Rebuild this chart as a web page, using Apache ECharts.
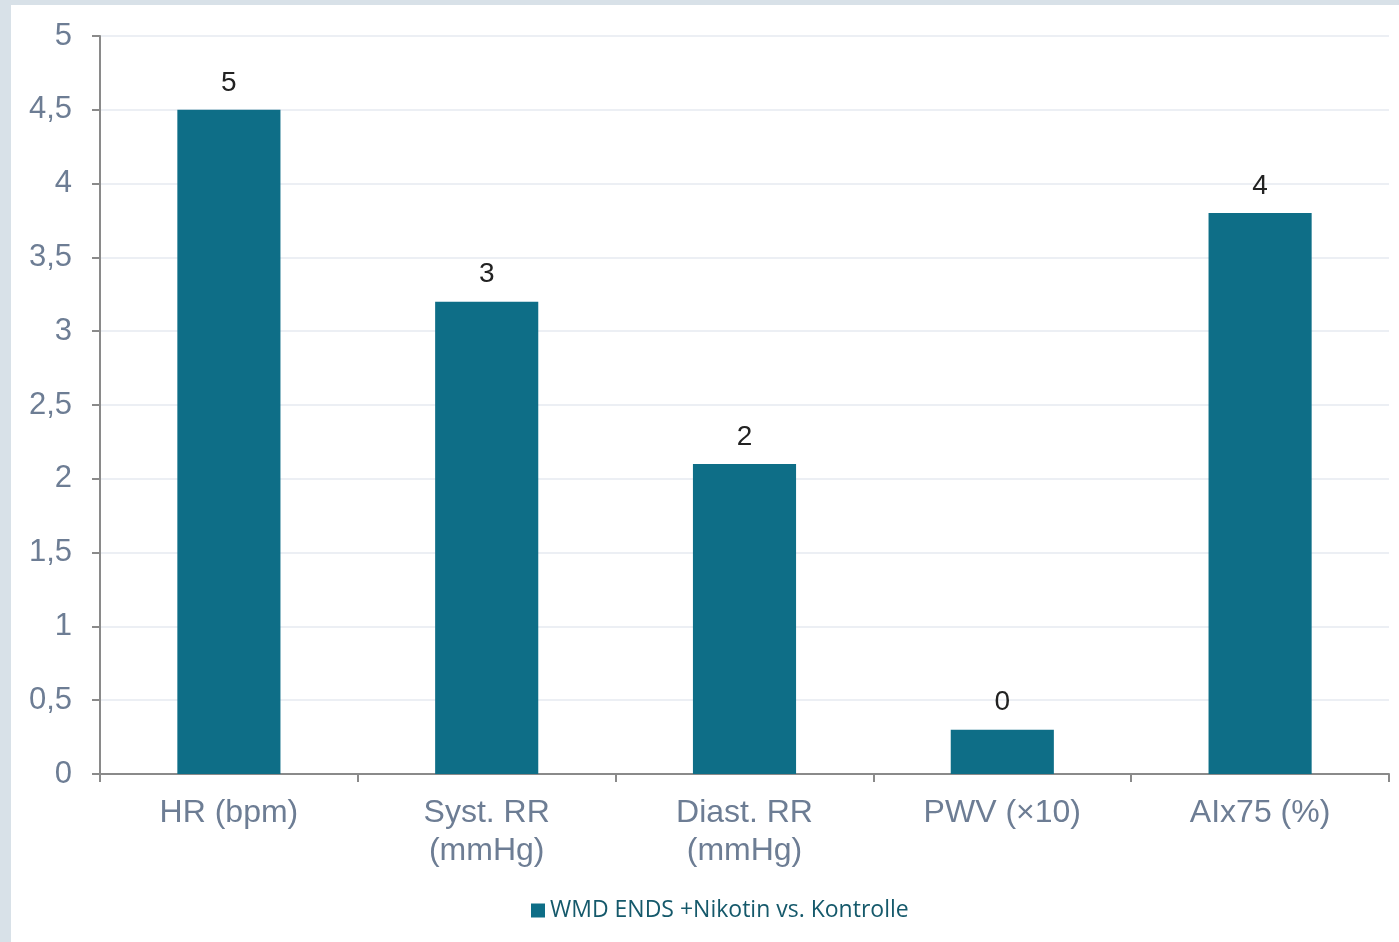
<!DOCTYPE html>
<html>
<head>
    <meta charset="utf-8">
    <title>ECharts</title>
    <script src="https://cdn.jsdelivr.net/npm/echarts@6/dist/echarts.min.js"></script>
    <style>
        html, body { margin: 0; padding: 0; background: #d8e1e8; }
        #main { position: absolute; left: 11px; top: 5px; width: 1388px; height: 937px; background: #ffffff; }
    </style>
</head>
<body>
    <div id="main"></div>
    <script type="text/javascript">
var categories = ['HR (bpm)', 'Syst. RR\n(mmHg)', 'Diast. RR\n(mmHg)', 'PWV (×10)', 'AIx75 (%)'];
var values = [4.5, 3.2, 2.1, 0.3, 3.8];
var seriesName = 'WMD ENDS +Nikotin vs. Kontrolle';

var myChart = echarts.init(document.getElementById('main'));

var option = {
    backgroundColor: '#ffffff',
    animation: false,
    grid: {
        left: 89,
        top: 31,
        right: 10,
        bottom: 168
    },
    legend: {
        data: [seriesName],
        bottom: 15,
        left: 515,
        icon: 'rect',
        itemWidth: 14,
        itemHeight: 14,
        itemGap: 7,
        textStyle: {
            color: '#15596b',
            fontSize: 23,
            fontFamily: 'Open Sans'
        }
    },
    xAxis: {
        type: 'category',
        data: categories,
        axisLine: { lineStyle: { color: '#8a8a8a', width: 2 } },
        axisTick: { show: true, length: 8, lineStyle: { color: '#8a8a8a', width: 2 } },
        axisLabel: {
            color: '#6d7d94',
            fontSize: 32,
            fontFamily: 'Liberation Sans',
            lineHeight: 38,
            margin: 20
        }
    },
    yAxis: {
        type: 'value',
        min: 0,
        max: 5,
        interval: 0.5,
        axisLine: { show: true, lineStyle: { color: '#8a8a8a', width: 2 } },
        axisTick: { show: true, length: 8, lineStyle: { color: '#8a8a8a', width: 2 } },
        splitLine: { lineStyle: { color: '#e6eaf0', width: 1.5 } },
        axisLabel: {
            color: '#6d7d94',
            fontSize: 31,
            fontFamily: 'Liberation Sans',
            margin: 28,
            formatter: function (v) { return String(v).replace('.', ','); }
        }
    },
    series: [{
        name: seriesName,
        type: 'bar',
        data: values,
        barWidth: '40%',
        itemStyle: { color: '#0e6e87' },
        label: {
            show: true,
            position: 'top',
            distance: 13,
            color: '#222222',
            fontSize: 28,
            fontFamily: 'Liberation Sans',
            formatter: function (p) { return Math.round(p.value); }
        }
    }]
};
myChart.setOption(option);
    </script>
</body>
</html>
